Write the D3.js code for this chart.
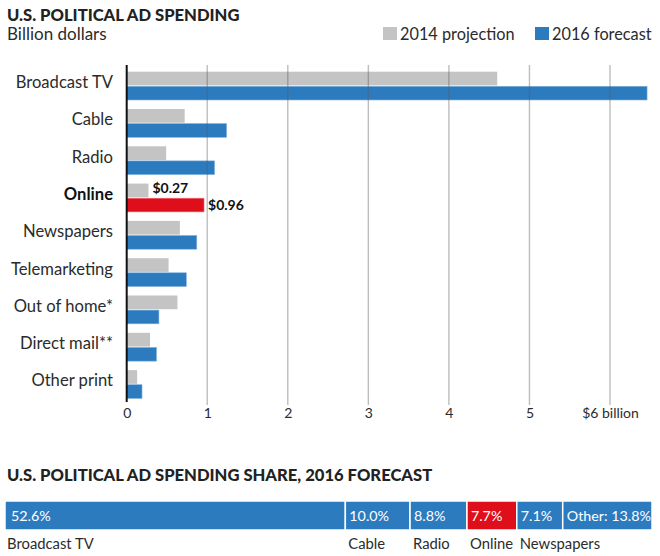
<!DOCTYPE html>
<html>
<head>
<meta charset="utf-8">
<script src="https://cdn.jsdelivr.net/npm/d3@7"></script>
<style>
  body { margin: 0; background: #fff; }
  svg { display: block; font-family: "Lato", "Noto Sans", sans-serif; }
</style>
</head>
<body>
<div id="container"></div>
<script>
(function(){
  "use strict";

  var categories = ["Broadcast TV", "Cable", "Radio", "Online", "Newspapers",
                    "Telemarketing", "Out of home*", "Direct mail**", "Other print"];
  var values2014 = [4.6, 0.72, 0.49, 0.27, 0.66, 0.52, 0.63, 0.29, 0.13];
  var values2016 = [6.46, 1.24, 1.09, 0.96, 0.87, 0.74, 0.40, 0.37, 0.19];
  var xTicks = [0, 1, 2, 3, 4, 5, 6];
  var xTickLabels = ["0", "1", "2", "3", "4", "5", "$6 billion"];
  var seriesNames = ["2014 projection", "2016 forecast"];

  var shareNames = ["Broadcast TV", "Cable", "Radio", "Online", "Newspapers", "Other"];
  var shareValues = [52.6, 10.0, 8.8, 7.7, 7.1, 13.8];

  var gray = "#c5c4c4", blue = "#2d7bbf", red = "#de0e1b", text = "#2b2b2b";

  var svg = d3.select("#container").append("svg")
      .attr("width", 660)
      .attr("height", 556);

  // titles
  svg.append("text").attr("x", 7).attr("y", 21)
      .style("font-size", "16.6px").style("font-weight", "900").attr("fill", "#222")
      .text("U.S. POLITICAL AD SPENDING");
  svg.append("text").attr("x", 7).attr("y", 40)
      .style("font-size", "17px").attr("fill", text)
      .text("Billion dollars");

  // legend
  var legend = svg.append("g");
  var legendX = [383, 535];
  [gray, blue].forEach(function(c, i) {
    legend.append("rect").attr("x", legendX[i]).attr("y", 27)
        .attr("width", 14).attr("height", 13).attr("fill", c);
    legend.append("text").attr("x", legendX[i] + 17).attr("y", 40)
        .style("font-size", "16.3px").attr("fill", text)
        .text(seriesNames[i]);
  });

  // scales
  var x = d3.scaleLinear().domain([0, 6]).range([126.7, 610]);
  var xMax = 650;
  var y = d3.scaleBand().domain(categories)
      .range([67.2, 402.9]).paddingInner(0.241).paddingOuter(0.12);
  var sub = d3.scaleBand().domain(["a", "b"])
      .range([0, y.bandwidth()]).paddingInner(0.06);

  var rows = categories.map(function(c, i) {
    return { name: c, v14: values2014[i], v16: values2016[i] };
  });

  var chart = svg.append("g");
  var row = chart.selectAll("g.row").data(rows).enter().append("g")
      .attr("class", "row")
      .attr("transform", function(d) { return "translate(0," + y(d.name) + ")"; });

  row.append("rect")
      .attr("x", x(0)).attr("y", sub("a"))
      .attr("width", function(d) { return Math.min(x(d.v14), xMax) - x(0); })
      .attr("height", sub.bandwidth())
      .attr("fill", gray);
  row.append("rect")
      .attr("x", x(0)).attr("y", sub("b"))
      .attr("width", function(d) { return Math.min(x(d.v16), xMax) - x(0); })
      .attr("height", sub.bandwidth())
      .attr("fill", function(d) { return d.name === "Online" ? red : blue; })
      .attr("stroke", function(d) { return d.name === "Online" ? "#f07a80" : "#7fb0dc"; })
      .attr("stroke-width", 0.6);

  row.append("text")
      .attr("x", 113).attr("y", y.bandwidth() / 2 - 2)
      .attr("text-anchor", "end").attr("dominant-baseline", "middle")
      .style("font-size", "16.6px")
      .style("font-weight", function(d) { return d.name === "Online" ? "700" : "400"; })
      .attr("fill", function(d) { return d.name === "Online" ? "#111" : text; })
      .text(function(d) { return d.name; });

  // value labels for Online
  var online = rows.filter(function(d) { return d.name === "Online"; });
  var onlineRow = chart.selectAll("g.lab").data(online).enter().append("g")
      .attr("transform", function(d) { return "translate(0," + y(d.name) + ")"; });
  onlineRow.append("text")
      .attr("x", function(d) { return x(d.v14) + 4; })
      .attr("y", sub("a") + sub.bandwidth() / 2 - 1)
      .attr("dominant-baseline", "middle")
      .style("font-size", "14px").style("font-weight", "700").attr("fill", "#111")
      .text(function(d) { return "$" + d.v14.toFixed(2); });
  onlineRow.append("text")
      .attr("x", function(d) { return x(d.v16) + 4; })
      .attr("y", sub("b") + sub.bandwidth() / 2 + 1)
      .attr("dominant-baseline", "middle")
      .style("font-size", "14px").style("font-weight", "700").attr("fill", "#111")
      .text(function(d) { return "$" + d.v16.toFixed(2); });

  // grid lines over bars
  chart.selectAll("line.grid").data(xTicks.slice(1)).enter().append("line")
      .attr("class", "grid")
      .attr("x1", function(d) { return x(d); }).attr("x2", function(d) { return x(d); })
      .attr("y1", 65).attr("y2", 405)
      .attr("stroke", "rgba(90,90,90,0.4)").attr("stroke-width", 1.4);

  // axis
  var xAxis = d3.axisBottom(x).tickValues(xTicks).tickSize(0)
      .tickFormat(function(d, i) { return xTickLabels[i]; });
  var axisG = svg.append("g").attr("transform", "translate(0,405)").call(xAxis);
  axisG.select(".domain").remove();
  axisG.selectAll("text").attr("dy", "0.71em").attr("y", 3)
      .style("font-size", "14px").style("font-family", "Lato, sans-serif").attr("fill", text);

  svg.append("line")
      .attr("x1", x(0)).attr("x2", x(0)).attr("y1", 65).attr("y2", 402)
      .attr("stroke", "#111").attr("stroke-width", 2);

  // share section
  svg.append("text").attr("x", 7).attr("y", 481)
      .style("font-size", "16.6px").style("font-weight", "900").attr("fill", "#222")
      .text("U.S. POLITICAL AD SPENDING SHARE, 2016 FORECAST");

  var total = d3.sum(shareValues);
  var sx = d3.scaleLinear().domain([0, total]).range([5, 652]);
  var cum = 0;
  var shares = shareNames.map(function(n, i) {
    var s = { name: n, value: shareValues[i], start: cum };
    cum += shareValues[i];
    return s;
  });

  var seg = svg.selectAll("g.seg").data(shares).enter().append("g")
      .attr("transform", function(d) { return "translate(" + sx(d.start) + ",0)"; });
  seg.append("rect")
      .attr("x", 0).attr("y", 501)
      .attr("width", function(d) { return sx(d.start + d.value) - sx(d.start); })
      .attr("height", 29)
      .attr("fill", function(d) { return d.name === "Online" ? red : blue; })
      .attr("stroke", "#fff").attr("stroke-width", 1.5);
  seg.append("text")
      .attr("x", function(d, i) { return i === 0 ? 6 : 4; }).attr("y", 521)
      .style("font-size", "14.3px").attr("fill", "#fff")
      .text(function(d) {
        return (d.name === "Other" ? "Other: " : "") + d.value.toFixed(1) + "%";
      });
  seg.filter(function(d) { return d.name !== "Other"; }).append("text")
      .attr("x", function(d, i) { return i === 0 ? 2 : 3; }).attr("y", 549)
      .style("font-size", "14.8px").attr("fill", text)
      .text(function(d) { return d.name; });
})();
</script>
</body>
</html>
